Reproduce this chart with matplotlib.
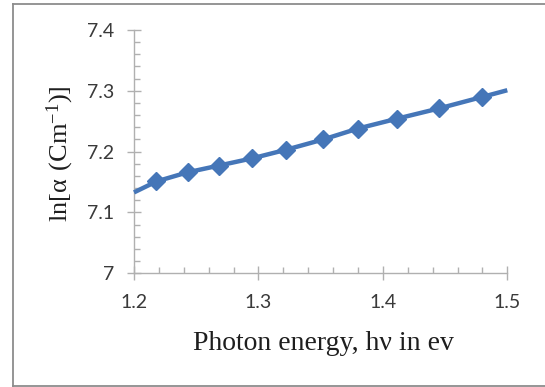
import matplotlib
matplotlib.use("Agg")
import matplotlib.pyplot as plt
from matplotlib.lines import Line2D
from matplotlib.ticker import MultipleLocator

# Data
energy = [1.218, 1.243, 1.268, 1.295, 1.322, 1.352, 1.380, 1.411, 1.445, 1.480]
ln_alpha = [7.151, 7.166, 7.177, 7.189, 7.203, 7.220, 7.238, 7.254, 7.271, 7.290]
# curve end points (line extends to the axis limits, no markers there)
line_start = (1.200, 7.133)
line_end = (1.500, 7.301)

x_ticks = [1.2, 1.3, 1.4, 1.5]
x_tick_labels = ["1.2", "1.3", "1.4", "1.5"]
y_ticks = [7.0, 7.1, 7.2, 7.3, 7.4]
y_tick_labels = ["7", "7.1", "7.2", "7.3", "7.4"]

plt.rcParams["mathtext.fontset"] = "custom"
plt.rcParams["mathtext.rm"] = "Liberation Serif"

W, H = 545, 387
fig = plt.figure(figsize=(W / 100, H / 100), dpi=100)
ax = fig.add_axes([134 / W, 1 - 273.3 / H, (507.3 - 134) / W, (273.3 - 30) / H])

blue = "#4576b8"
line_x = [line_start[0]] + energy + [line_end[0]]
line_y = [line_start[1]] + ln_alpha + [line_end[1]]
ax.plot(line_x, line_y, color=blue, lw=3.2, solid_capstyle="butt", clip_on=False, zorder=3)
ax.plot(energy, ln_alpha, linestyle="none", marker="D", ms=9.5, color=blue, mec=blue, zorder=4)

ax.set_xlim(1.2, 1.5)
ax.set_ylim(7.0, 7.4)

grey = "#b0b0b0"
for s in ["top", "right"]:
    ax.spines[s].set_visible(False)
for s in ["left", "bottom"]:
    ax.spines[s].set_color(grey)
    ax.spines[s].set_linewidth(1.0)

ax.set_xticks(x_ticks)
ax.set_xticklabels(x_tick_labels)
ax.set_yticks(y_ticks)
ax.set_yticklabels(y_tick_labels)
ax.xaxis.set_minor_locator(MultipleLocator(0.02))
ax.yaxis.set_minor_locator(MultipleLocator(0.02))

ax.tick_params(axis="both", which="major", direction="inout", length=10, width=1.0,
               color=grey, labelcolor="#3a3a3a")
ax.tick_params(axis="both", which="minor", direction="in", length=4.3, width=1.0, color=grey)
ax.tick_params(axis="y", which="major", pad=9)
ax.tick_params(axis="x", which="major", pad=10)
for lab in ax.get_xticklabels() + ax.get_yticklabels():
    lab.set_fontfamily("Lato")
    lab.set_fontsize(14)

fig.text(323.7 / W, 1 - 343 / H, "Photon energy, h\u03bd in ev", family="Liberation Serif",
         fontsize=20, ha="center", va="center", color="#1e1e1e")
fig.text(60.7 / W, 1 - 153.5 / H, r"$\mathregular{ln[\alpha\ (Cm^{-1})]}$", family="Liberation Serif",
         fontsize=19, ha="center", va="center", rotation=90, color="#1e1e1e")

# outer chart-area border (left, top, bottom visible)
bc = "#8c8c8c"
fig.add_artist(Line2D([12.5 / W, 12.5 / W], [1 - 4 / H, 1 - 386 / H], transform=fig.transFigure, color=bc, lw=1.3))
fig.add_artist(Line2D([12.5 / W, 1.0], [1 - 4 / H, 1 - 4 / H], transform=fig.transFigure, color=bc, lw=1.3))
fig.add_artist(Line2D([12.5 / W, 1.0], [1 - 386 / H, 1 - 386 / H], transform=fig.transFigure, color=bc, lw=1.3))

fig.savefig("out.png", dpi=100)
